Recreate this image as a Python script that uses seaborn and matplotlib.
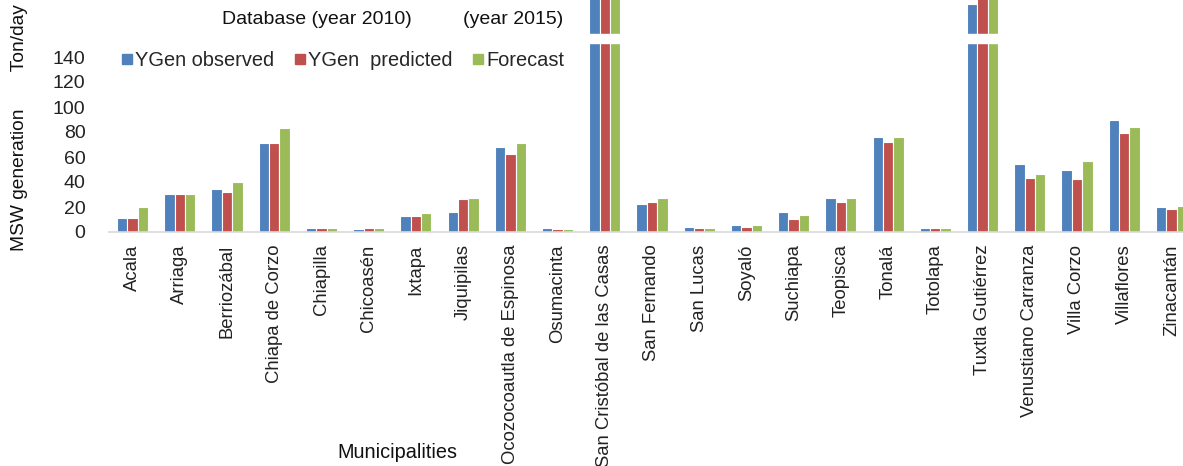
import matplotlib
matplotlib.use("Agg")
import matplotlib.pyplot as plt
from matplotlib.lines import Line2D
import seaborn as sns
import pandas as pd

municipalities = [
    "Acala", "Arriaga", "Berriozábal", "Chiapa de Corzo", "Chiapilla",
    "Chicoasén", "Ixtapa", "Jiquipilas", "Ocozocoautla de Espinosa",
    "Osumacinta", "San Cristóbal de las Casas", "San Fernando", "San Lucas",
    "Soyaló", "Suchiapa", "Teopisca", "Tonalá", "Totolapa", "Tuxtla Gutiérrez",
    "Venustiano Carranza", "Villa Corzo", "Villaflores", "Zinacantán",
]

ygen_observed = [11, 30, 34, 71, 3.2, 2.1, 12.5, 16, 68, 3.2, 195, 22, 4.3,
                 5.6, 16, 27, 76, 3.2, 182, 54.5, 49.5, 89.5, 19.7]
ygen_predicted = [11, 30, 32, 71, 3.2, 3, 12.5, 26, 62, 2.1, 195, 24, 3.2,
                  4.3, 10.7, 23.7, 72, 3.2, 195, 43, 42, 79, 18.4]
forecast = [20, 30, 40, 83, 3.2, 3, 15, 27, 71, 2, 200, 27, 3.2,
            5.6, 13.6, 27, 76, 3.2, 200, 46, 57, 84, 20.8]

series_names = ["YGen observed", "YGen  predicted", "Forecast"]
y_ticks = [0, 20, 40, 60, 80, 100, 120, 140]

colors = ["#4F81BD", "#C0504D", "#9BBB59"]

df = pd.DataFrame({
    "Municipality": municipalities * 3,
    "Series": sum([[s] * len(municipalities) for s in series_names], []),
    "Value": ygen_observed + ygen_predicted + forecast,
})

sns.set_theme(style="white")
plt.rcParams["font.family"] = ["Liberation Sans", "DejaVu Sans"]

W, H = 1183, 466
fig = plt.figure(figsize=(W / 100, H / 100), dpi=100)
ax = fig.add_axes([109 / W, (H - 232) / H, 1086 / W, 232 / H])

sns.barplot(
    data=df, x="Municipality", y="Value", hue="Series",
    order=municipalities, hue_order=series_names, palette=colors,
    width=0.66, edgecolor="white", linewidth=0.8, legend=False, ax=ax,
    saturation=1,
)

ax.set_ylim(0, 185.6)
ax.set_xlim(-0.5, len(municipalities) - 0.5)
ax.set_yticks(y_ticks)
ax.set_yticklabels([str(t) for t in y_ticks], fontsize=14, color="#222222")
ax.tick_params(axis="y", length=0, pad=17)
ax.tick_params(axis="x", length=0, pad=9)
ax.set_xticks(range(len(municipalities)))
ax.set_xticklabels(municipalities, rotation=90, fontsize=13.3, color="#222222",
                   va="top", ha="center")
ax.set_xlabel("")
ax.set_ylabel("")
for side in ["top", "right", "left"]:
    ax.spines[side].set_visible(False)
ax.spines["bottom"].set_color("#D9D9D9")
ax.spines["bottom"].set_linewidth(1.2)
ax.grid(False)

# axis break band above 150
ax.axhspan(151.2, 158.5, color="white", zorder=5)

# legend with square keys
handles = [Line2D([0], [0], marker="s", linestyle="none", markersize=7,
                  markerfacecolor=c, markeredgecolor=c) for c in colors]
fig.legend(handles, series_names, loc="center left",
           bbox_to_anchor=(121 / W, (H - 60) / H), ncol=3, frameon=False,
           fontsize=14.4, handlelength=0.55, handletextpad=0.15,
           columnspacing=1.0, borderaxespad=0, borderpad=0)

fig.text(412 / W, (H - 20) / H, "Database (year 2010)", fontsize=14,
         va="center", ha="right", color="#111111")
fig.text(463 / W, (H - 20) / H, "(year 2015)", fontsize=14,
         va="center", ha="left", color="#111111")

fig.text(20 / W, (H - 251) / H, "MSW generation       Ton/day", rotation=90,
         fontsize=13.8, va="bottom", ha="center", color="#111111")
fig.text(397 / W, (H - 453) / H, "Municipalities", fontsize=14.3,
         va="center", ha="center", color="#111111")

fig.savefig("out.png", dpi=100, facecolor="white")
